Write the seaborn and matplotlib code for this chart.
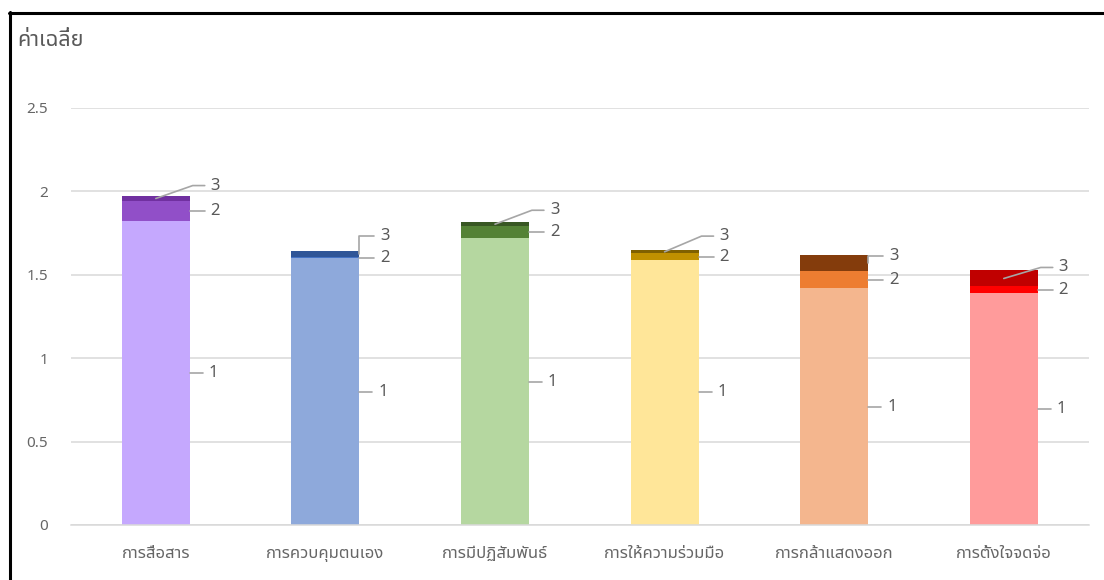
import numpy as np
import pandas as pd
import matplotlib
matplotlib.use("Agg")
import matplotlib.pyplot as plt
import seaborn as sns
from matplotlib import font_manager
from matplotlib.ft2font import FT2Font
from matplotlib.lines import Line2D

# ---------------- data ----------------
categories = ["การสื่อสาร", "การควบคุมตนเอง", "การมีปฏิสัมพันธ์",
              "การให้ความร่วมมือ", "การกล้าแสดงออก", "การตั้งใจจดจ่อ"]
seg1 = [1.82, 1.60, 1.72, 1.59, 1.42, 1.39]
seg2 = [0.12, 0.005, 0.072, 0.038, 0.10, 0.04]
seg3 = [0.035, 0.038, 0.023, 0.02, 0.10, 0.096]
seg_labels = ["1", "2", "3"]
y_ticks = [0, 0.5, 1, 1.5, 2, 2.5]
y_tick_labels = ["0", "0.5", "1", "1.5", "2", "2.5"]
y_title = "ค่าเฉลี่ย"

# ---------------- style ----------------
colors1 = ["#C5A8FE", "#8EA9DB", "#B5D7A0", "#FFE699", "#F4B68E", "#FF9B9B"]
colors2 = ["#914FC8", "#4472C4", "#548235", "#BF9000", "#ED7D31", "#FF0000"]
colors3 = ["#7030A0", "#2F5597", "#385723", "#7F6000", "#843C0C", "#C00000"]
label3_offset_px = [10, 15, 12, 14, -1, 3]
label3_elbow = ["diag", "vert", "diag", "diag", "vert", "diag"]


def find_thai_font():
    preferred = ["Noto Sans Thai", "Noto Sans Thai UI", "Leelawadee UI", "Tahoma",
                 "Loma", "Garuda", "Sarabun", "Kinnari", "Norasi", "FreeSans",
                 "Noto Sans", "DejaVu Sans"]
    found = {}
    for f in font_manager.fontManager.ttflist:
        if f.name in found:
            continue
        try:
            cmap = FT2Font(f.fname).get_charmap()
        except Exception:
            continue
        if 0x0E01 in cmap and 0x0E48 in cmap:
            found[f.name] = f.fname
    for p in preferred:
        if p in found:
            return p
    return next(iter(found), None)


sns.set_theme(style="white")
thai = find_thai_font()
fams = ([thai] if thai else []) + ["DejaVu Sans"]
plt.rcParams["font.family"] = fams

W, H = 1104, 580
fig = plt.figure(figsize=(W / 100, H / 100), dpi=100)
ax_l, ax_r, ax_b, ax_t = 71, 1088.6, 525, 108
ax = fig.add_axes([ax_l / W, 1 - ax_b / H, (ax_r - ax_l) / W, (ax_b - ax_t) / H])

s1 = np.array(seg1)
s12 = s1 + np.array(seg2)
s123 = s12 + np.array(seg3)
df = pd.DataFrame({"cat": categories, "c1": s1, "c12": s12, "c123": s123})

for col, pal in [("c123", colors3), ("c12", colors2), ("c1", colors1)]:
    sns.barplot(data=df, x="cat", y=col, hue="cat", order=categories,
                hue_order=categories, palette=pal, width=0.4, saturation=1,
                legend=False, ax=ax, linewidth=0, errorbar=None)

ax.set_xlim(-0.5, len(categories) - 0.5)
ax.set_ylim(0, 2.5)
ax.set_yticks(y_ticks)
ax.set_yticklabels(y_tick_labels)
ax.set_xlabel("")
ax.set_ylabel("")
ax.yaxis.grid(True, color="#D9D9D9", lw=1.1)
ax.xaxis.grid(False)
ax.set_axisbelow(True)
for s in ["top", "left", "right"]:
    ax.spines[s].set_visible(False)
ax.spines["bottom"].set_color("#D9D9D9")
ax.spines["bottom"].set_linewidth(1.1)
ax.tick_params(axis="y", length=0, pad=16.5, labelsize=11, labelcolor="#666666")
ax.tick_params(axis="x", length=0, pad=15, labelsize=12, labelcolor="#666666")

xpx = (ax_r - ax_l) / len(categories)
ypx = (ax_b - ax_t) / 2.5
lc = "#A6A6A6"
tc = "#595959"
fs = 12

for i in range(len(categories)):
    right = i + 0.2
    # label 1
    y1 = s1[i] / 2
    ax.plot([right, right + 13 / xpx], [y1, y1], color=lc, lw=1.2, zorder=3)
    ax.text(right + 19 / xpx, y1, seg_labels[0], va="center", ha="left",
            fontsize=fs, color=tc)
    # label 2
    y2 = s1[i] + seg2[i] / 2
    ax.plot([right, right + 15 / xpx], [y2, y2], color=lc, lw=1.2, zorder=3)
    ax.text(right + 21 / xpx, y2, seg_labels[1], va="center", ha="left",
            fontsize=fs, color=tc)
    # label 3
    y3 = s12[i] + seg3[i] / 2
    ly = s123[i] + label3_offset_px[i] / ypx
    if label3_elbow[i] == "diag":
        xs = [i, right + 3 / xpx, right + 15 / xpx]
        ys = [y3, ly, ly]
    else:
        xs = [right, right, right + 15 / xpx]
        ys = [y3, ly, ly]
    ax.plot(xs, ys, color=lc, lw=1.2, zorder=3, clip_on=False)
    ax.text(right + 21 / xpx, ly, seg_labels[2], va="center", ha="left",
            fontsize=fs, color=tc)

fig.text(17 / W, 1 - 40 / H, y_title, fontsize=15.5, color="#595959",
         va="center", ha="left")

# outer frame (top and left edges visible)
fig.add_artist(Line2D([9 / W, 1], [1 - 12.5 / H, 1 - 12.5 / H], color="black",
                      lw=2.2, transform=fig.transFigure))
fig.add_artist(Line2D([10 / W, 10 / W], [0, 1 - 12 / H], color="black",
                      lw=2.2, transform=fig.transFigure))

fig.savefig("out.png", dpi=100)
